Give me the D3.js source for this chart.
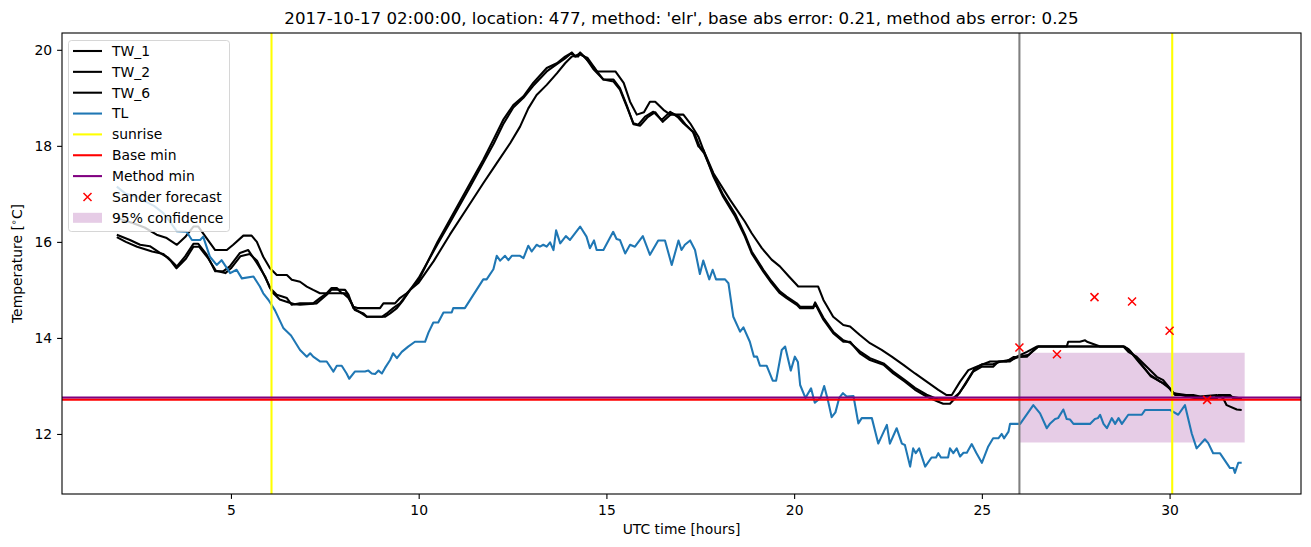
<!DOCTYPE html>
<html>
<head>
<meta charset="utf-8">
<script src="https://cdn.jsdelivr.net/npm/d3@7"></script>
<style>
  body { margin: 0; background: #fff; }
  svg { display: block; font-family: "DejaVu Sans", sans-serif; }
</style>
</head>
<body>
<svg id="chart" width="1311" height="547"></svg>
<script>
// hours since 2017-10-16 00:00 UTC, temperature in degC
var tw1 = [[1.95,16.5],[2.4,16.39],[2.7,16.3],[3.02,16.15],[3.29,16.08],[3.56,15.94],[3.78,16.1],[4.0,16.32],[4.13,16.32],[4.35,16.08],[4.58,15.83],[4.89,15.83],[5.06,15.94],[5.33,16.13],[5.55,16.13],[5.69,16.0],[5.86,15.69],[6.04,15.45],[6.22,15.31],[6.49,15.31],[6.62,15.21],[6.84,15.17],[7.02,15.07],[7.19,15.0],[7.37,14.93],[7.99,14.93],[8.13,14.83],[8.26,14.65],[8.39,14.62],[8.97,14.62],[9.06,14.72],[9.37,14.72],[9.5,14.83],[9.68,14.93],[9.77,15.0],[10.0,15.15],[10.4,15.6],[10.83,16.15],[11.37,16.8],[11.72,17.22],[12.08,17.64],[12.44,18.06],[12.7,18.4],[12.92,18.78],[13.14,19.06],[13.41,19.27],[13.68,19.51],[13.9,19.72],[14.08,19.86],[14.3,19.9],[14.5,19.83],[14.75,19.55],[15.24,19.55],[15.46,19.31],[15.63,18.92],[15.81,18.65],[16.0,18.7],[16.16,18.92],[16.3,18.92],[16.52,18.75],[16.7,18.65],[17.05,18.65],[17.23,18.47],[17.45,18.19],[17.58,17.92],[17.85,17.43],[18.29,16.88],[18.69,16.42],[18.87,16.18],[19.14,15.87],[19.4,15.63],[19.62,15.49],[19.85,15.29],[20.11,15.07],[20.64,15.07],[20.78,14.79],[21.04,14.44],[21.31,14.27],[21.49,14.24],[21.75,14.06],[22.02,13.89],[22.33,13.75],[22.6,13.61],[22.91,13.44],[23.22,13.26],[23.53,13.09],[23.84,12.92],[24.06,12.81],[24.2,12.81],[24.42,13.09],[24.64,13.33],[24.86,13.4],[25.22,13.51],[25.66,13.51],[25.84,13.6],[26.2,13.61],[26.33,13.71],[26.5,13.82],[27.26,13.82],[27.3,13.92],[27.61,13.92],[27.75,13.95],[27.8,13.92],[28.15,13.82],[28.77,13.82],[28.9,13.71],[29.12,13.61],[29.39,13.4],[29.66,13.19],[29.83,13.12],[30.01,12.95],[30.15,12.81],[30.63,12.81],[30.81,12.78],[31.26,12.81],[31.43,12.74],[31.52,12.6],[31.79,12.51],[31.92,12.5]];

var tw2 = [[1.96,16.15],[2.31,16.04],[2.58,15.94],[2.84,15.91],[3.11,15.77],[3.33,15.67],[3.56,15.49],[3.78,15.7],[4.0,15.96],[4.13,15.96],[4.35,15.74],[4.58,15.39],[4.8,15.39],[4.97,15.49],[5.24,15.77],[5.46,15.83],[5.69,15.56],[5.91,15.28],[6.04,15.04],[6.22,14.9],[6.49,14.83],[6.62,14.69],[6.84,14.72],[7.19,14.72],[7.37,14.83],[7.55,14.93],[7.68,15.04],[7.82,15.04],[7.95,14.93],[8.08,14.93],[8.22,14.72],[8.3,14.58],[8.53,14.51],[8.62,14.44],[9.02,14.44],[9.15,14.51],[9.32,14.62],[9.5,14.72],[9.64,14.86],[9.77,15.0],[10.0,15.2],[10.5,16.0],[10.83,16.46],[11.37,17.22],[11.72,17.71],[11.99,18.13],[12.25,18.54],[12.52,18.85],[12.79,19.03],[13.05,19.31],[13.41,19.62],[13.68,19.72],[13.9,19.86],[14.08,19.94],[14.15,19.86],[14.25,19.86],[14.3,19.94],[14.4,19.86],[14.65,19.65],[14.92,19.38],[15.19,19.34],[15.36,19.17],[15.54,18.82],[15.72,18.47],[15.85,18.44],[16.03,18.61],[16.25,18.71],[16.47,18.54],[16.7,18.71],[16.9,18.6],[17.05,18.47],[17.3,18.3],[17.45,17.99],[17.58,17.92],[17.85,17.36],[18.11,16.94],[18.43,16.53],[18.69,16.11],[18.87,15.76],[19.18,15.38],[19.4,15.14],[19.62,14.93],[19.8,14.83],[20.07,14.69],[20.16,14.62],[20.51,14.62],[20.56,14.71],[20.78,14.38],[21.04,14.1],[21.31,13.92],[21.49,13.92],[21.75,13.68],[22.02,13.54],[22.38,13.44],[22.64,13.26],[22.95,13.09],[23.22,12.92],[23.53,12.78],[23.84,12.67],[23.97,12.63],[24.15,12.63],[24.33,12.78],[24.55,13.02],[24.77,13.3],[24.99,13.4],[25.3,13.4],[25.44,13.51],[25.75,13.51],[25.93,13.61],[26.2,13.71],[26.46,13.82],[28.77,13.82],[28.9,13.77],[29.21,13.47],[29.48,13.23],[29.75,13.09],[29.92,13.02],[30.1,12.85],[30.3,12.81],[30.72,12.74],[31.26,12.74],[31.3,12.81],[31.61,12.81],[31.7,12.74],[31.92,12.74]];

var tw6 = [[1.96,16.1],[2.2,16.0],[2.5,15.9],[2.9,15.8],[3.2,15.75],[3.4,15.6],[3.55,15.45],[3.8,15.65],[4.0,15.9],[4.15,15.9],[4.4,15.65],[4.6,15.4],[4.85,15.35],[5.0,15.45],[5.25,15.7],[5.5,15.75],[5.7,15.6],[5.95,15.2],[6.1,14.95],[6.3,14.8],[6.5,14.75],[6.7,14.7],[6.84,14.69],[7.28,14.72],[7.55,14.9],[7.68,15.01],[8.04,15.0],[8.13,14.9],[8.26,14.62],[8.48,14.51],[8.62,14.44],[9.1,14.44],[9.24,14.51],[9.42,14.62],[9.59,14.79],[9.77,15.0],[10.0,15.25],[10.5,15.95],[10.83,16.4],[11.37,17.15],[11.72,17.65],[12.0,18.05],[12.25,18.45],[12.52,18.8],[12.79,19.0],[13.05,19.25],[13.41,19.55],[13.68,19.7],[13.9,19.82],[14.08,19.94],[14.18,19.86],[14.3,19.94],[14.45,19.83],[14.65,19.6],[14.92,19.38],[15.19,19.38],[15.36,19.2],[15.54,18.85],[15.72,18.45],[15.9,18.42],[16.1,18.6],[16.3,18.7],[16.5,18.5],[16.75,18.68],[16.95,18.6],[17.1,18.45],[17.35,18.25],[17.5,17.95],[17.6,17.85],[17.85,17.4],[18.11,16.98],[18.43,16.58],[18.69,16.15],[18.87,15.8],[19.18,15.42],[19.4,15.18],[19.62,14.97],[19.8,14.86],[20.07,14.72],[20.16,14.65],[20.51,14.65],[20.56,14.74],[20.78,14.42],[21.04,14.13],[21.31,13.95],[21.49,13.9],[21.75,13.72],[22.02,13.58],[22.38,13.47],[22.64,13.3],[22.95,13.12],[23.22,12.96],[23.53,12.82],[23.84,12.72],[24.0,12.72],[24.2,12.72],[24.4,12.85],[24.6,13.1],[24.8,13.35],[25.0,13.45],[25.3,13.45],[25.5,13.51],[25.8,13.55],[26.0,13.61],[26.25,13.65],[26.5,13.82],[28.8,13.82],[28.95,13.73],[29.25,13.45],[29.5,13.2],[29.8,13.07],[30.0,12.95],[30.1,12.85],[30.35,12.82],[30.7,12.78],[31.2,12.76],[31.35,12.8],[31.6,12.78],[31.92,12.74]];

var tl = [[1.96,17.15],[2.2,17.0],[2.45,16.95],[2.7,16.85],[2.95,16.75],[3.2,16.6],[3.35,16.45],[3.56,16.22],[3.82,16.21],[3.96,16.04],[4.18,16.04],[4.26,16.11],[4.44,15.69],[4.62,15.52],[4.75,15.62],[4.98,15.35],[5.15,15.42],[5.29,15.24],[5.6,15.28],[5.77,15.07],[5.86,14.93],[6.0,14.79],[6.17,14.58],[6.4,14.2],[6.6,14.05],[6.84,13.75],[7.02,13.61],[7.11,13.68],[7.19,13.61],[7.37,13.51],[7.55,13.51],[7.73,13.3],[7.82,13.42],[7.95,13.42],[8.08,13.26],[8.15,13.15],[8.3,13.3],[8.57,13.3],[8.66,13.32],[8.75,13.26],[8.84,13.25],[8.93,13.32],[9.02,13.26],[9.1,13.37],[9.24,13.54],[9.32,13.68],[9.42,13.58],[9.55,13.71],[9.72,13.82],[9.9,13.92],[10.17,13.92],[10.26,14.11],[10.39,14.32],[10.52,14.32],[10.66,14.53],[10.88,14.53],[10.92,14.62],[11.23,14.62],[11.72,15.22],[11.81,15.22],[11.99,15.43],[12.08,15.71],[12.17,15.61],[12.3,15.71],[12.39,15.62],[12.48,15.71],[12.7,15.71],[12.79,15.66],[12.92,15.92],[13.01,15.8],[13.14,15.94],[13.23,15.9],[13.32,15.94],[13.41,15.9],[13.5,15.99],[13.59,15.83],[13.66,16.24],[13.77,15.97],[13.92,16.12],[14.03,16.04],[14.3,16.32],[14.47,16.11],[14.56,15.87],[14.67,16.03],[14.74,15.83],[14.92,15.83],[15.18,16.21],[15.27,16.06],[15.36,16.04],[15.5,15.76],[15.63,15.94],[15.76,15.9],[15.97,16.12],[16.16,15.73],[16.38,16.03],[16.56,16.03],[16.74,15.52],[16.92,16.03],[17.0,15.83],[17.09,15.94],[17.23,16.03],[17.36,15.83],[17.49,15.33],[17.58,15.61],[17.74,15.22],[17.83,15.42],[17.92,15.22],[18.16,15.22],[18.25,15.14],[18.38,14.44],[18.56,14.13],[18.65,14.22],[18.82,13.92],[18.93,13.61],[19.01,13.61],[19.09,13.42],[19.27,13.42],[19.43,13.11],[19.52,13.11],[19.67,13.75],[19.76,13.82],[19.91,13.32],[20.02,13.61],[20.1,13.5],[20.16,13.02],[20.3,12.75],[20.45,12.95],[20.55,12.65],[20.7,12.75],[20.8,13.0],[20.9,12.7],[21.0,12.35],[21.1,12.45],[21.2,12.75],[21.3,12.85],[21.4,12.78],[21.58,12.79],[21.71,12.22],[21.8,12.33],[22.07,12.33],[22.24,11.8],[22.47,12.19],[22.55,11.8],[22.73,12.12],[22.87,11.8],[22.95,11.77],[23.09,11.32],[23.17,11.7],[23.24,11.6],[23.33,11.7],[23.49,11.32],[23.66,11.51],[23.78,11.51],[23.84,11.6],[23.91,11.51],[24.1,11.51],[24.15,11.7],[24.24,11.6],[24.33,11.7],[24.42,11.53],[24.51,11.61],[24.6,11.61],[24.73,11.79],[24.85,11.61],[25.0,11.4],[25.17,11.74],[25.3,11.91],[25.44,11.91],[25.53,12.0],[25.59,11.91],[25.71,12.05],[25.75,12.21],[26.02,12.21],[26.37,12.6],[26.55,12.43],[26.73,12.12],[26.82,12.22],[26.95,12.31],[27.03,12.33],[27.17,12.51],[27.26,12.31],[27.35,12.3],[27.44,12.21],[27.88,12.21],[28.01,12.31],[28.09,12.33],[28.15,12.4],[28.24,12.21],[28.33,12.12],[28.46,12.33],[28.55,12.21],[28.64,12.33],[28.73,12.21],[28.9,12.4],[29.26,12.4],[29.35,12.5],[30.01,12.5],[30.23,12.4],[30.41,12.6],[30.59,12.01],[30.72,11.7],[30.94,11.89],[31.03,11.81],[31.16,11.6],[31.34,11.6],[31.61,11.29],[31.7,11.29],[31.74,11.19],[31.83,11.4],[31.92,11.4]];

var sunriseHours = [6.08, 30.07];
var forecastHour = 26;
var baseMin = 12.715;
var methodMin = 12.76;
var sanderHours = [26, 27, 28, 29, 30, 31];
var sanderTemps = [13.80, 13.66, 14.85, 14.76, 14.15, 12.71];
var confHours = [26, 32];
var confLow = [11.82, 11.82];
var confHigh = [13.69, 13.69];

var xTicks = [5, 10, 15, 20, 25, 30];
var yTicks = [12, 14, 16, 18, 20];
var legendLabels = ['TW_1', 'TW_2', 'TW_6', 'TL', 'sunrise', 'Base min', 'Method min', 'Sander forecast', '95% confidence'];

var titleText = "2017-10-17 02:00:00, location: 477, method: 'elr', base abs error: 0.21, method abs error: 0.25";

var svg = d3.select('#chart');
var axLeft = 62, axRight = 1301, axTop = 33, axBottom = 494;

var x = d3.scaleLinear().domain([0.5, 33.5]).range([axLeft, axRight]);
var y = d3.scaleLinear().domain([10.75, 20.35]).range([axBottom, axTop]);

var lw = 2.08;
var line = d3.line().x(function(d) { return x(d[0]); }).y(function(d) { return y(d[1]); });

// confidence band
var band = confHours.map(function(h, i) { return [h, confLow[i], confHigh[i]]; });
svg.append('path')
  .datum(band)
  .attr('d', d3.area().x(function(d) { return x(d[0]); }).y0(function(d) { return y(d[1]); }).y1(function(d) { return y(d[2]); }))
  .attr('fill', 'purple').attr('fill-opacity', 0.2);

// temperature lines
[tw1, tw2, tw6].forEach(function(s) {
  svg.append('path').datum(s).attr('d', line)
    .attr('fill', 'none').attr('stroke', '#000').attr('stroke-width', lw).attr('stroke-linejoin', 'round');
});
svg.append('path').datum(tl).attr('d', line)
  .attr('fill', 'none').attr('stroke', '#1f77b4').attr('stroke-width', lw).attr('stroke-linejoin', 'round');

// forecast time
svg.append('line')
  .attr('x1', x(forecastHour)).attr('x2', x(forecastHour)).attr('y1', axTop).attr('y2', axBottom)
  .attr('stroke', 'grey').attr('stroke-width', lw);

// sunrise
svg.selectAll('.sunrise').data(sunriseHours).enter().append('line')
  .attr('x1', function(d) { return x(d); }).attr('x2', function(d) { return x(d); })
  .attr('y1', axTop).attr('y2', axBottom)
  .attr('stroke', 'yellow').attr('stroke-width', lw);

// minimum lines
svg.append('line').attr('x1', axLeft).attr('x2', axRight).attr('y1', y(baseMin)).attr('y2', y(baseMin))
  .attr('stroke', 'red').attr('stroke-width', lw);
svg.append('line').attr('x1', axLeft).attr('x2', axRight).attr('y1', y(methodMin)).attr('y2', y(methodMin))
  .attr('stroke', 'purple').attr('stroke-width', lw);

// sander forecast markers
function cross(g, cx, cy) {
  var r = 4;
  g.append('path')
    .attr('d', 'M' + (cx - r) + ',' + (cy - r) + 'L' + (cx + r) + ',' + (cy + r) + 'M' + (cx - r) + ',' + (cy + r) + 'L' + (cx + r) + ',' + (cy - r))
    .attr('stroke', 'red').attr('stroke-width', 1.5).attr('fill', 'none');
}
sanderHours.forEach(function(h, i) { cross(svg, x(h), y(sanderTemps[i])); });

// axes
var xAxis = svg.append('g').attr('transform', 'translate(0,' + axBottom + ')')
  .call(d3.axisBottom(x).tickValues(xTicks).tickSize(4.9).tickSizeOuter(0).tickPadding(6));
var yAxis = svg.append('g').attr('transform', 'translate(' + axLeft + ',0)')
  .call(d3.axisLeft(y).tickValues(yTicks).tickSize(4.9).tickSizeOuter(0).tickPadding(4.9));
[xAxis, yAxis].forEach(function(a) {
  a.select('.domain').remove();
  a.selectAll('line').attr('stroke', '#000').attr('stroke-width', 1.1);
  a.selectAll('text').attr('font-size', '13.9px').attr('fill', '#000').attr('font-family', 'DejaVu Sans');
});

svg.append('rect').attr('x', axLeft).attr('y', axTop).attr('width', axRight - axLeft).attr('height', axBottom - axTop)
  .attr('fill', 'none').attr('stroke', '#000').attr('stroke-width', 1.1);

// labels
svg.append('text').attr('x', (axLeft + axRight) / 2).attr('y', 24).attr('text-anchor', 'middle')
  .attr('font-size', '16.67px').text(titleText);
svg.append('text').attr('x', (axLeft + axRight) / 2).attr('y', 534).attr('text-anchor', 'middle')
  .attr('font-size', '13.9px').text('UTC time [hours]');
var yl = svg.append('text').attr('transform', 'translate(22,' + ((axTop + axBottom) / 2) + ') rotate(-90)')
  .attr('text-anchor', 'middle').attr('font-size', '13.9px');
yl.append('tspan').text('Temperature [');
yl.append('tspan').attr('font-size', '9.7px').attr('dy', -5).text('\u2218');
yl.append('tspan').attr('dy', 5).text('C]');

// legend
var lg = svg.append('g');
lg.append('rect').attr('x', 68.5).attr('y', 40.5).attr('width', 161).attr('height', 191).attr('rx', 3)
  .attr('fill', '#fff').attr('fill-opacity', 0.8).attr('stroke', '#ccc').attr('stroke-opacity', 0.8);
var legendStyles = [
  {type: 'line', color: '#000'}, {type: 'line', color: '#000'}, {type: 'line', color: '#000'},
  {type: 'line', color: '#1f77b4'}, {type: 'line', color: 'yellow'}, {type: 'line', color: 'red'},
  {type: 'line', color: 'purple'}, {type: 'cross', color: 'red'}, {type: 'patch', color: 'purple'}
];
legendLabels.forEach(function(label, i) {
  var cy = 51 + i * 20.85;
  var st = legendStyles[i];
  if (st.type === 'line') {
    lg.append('line').attr('x1', 73).attr('x2', 102).attr('y1', cy).attr('y2', cy)
      .attr('stroke', st.color).attr('stroke-width', lw);
  } else if (st.type === 'cross') {
    cross(lg, 87.5, cy);
  } else {
    lg.append('rect').attr('x', 73).attr('y', cy - 5).attr('width', 29).attr('height', 10)
      .attr('fill', st.color).attr('fill-opacity', 0.2);
  }
  lg.append('text').attr('x', 112).attr('y', cy).attr('dy', '0.35em').attr('font-size', '13.9px').text(label);
});
</script>
</body>
</html>
